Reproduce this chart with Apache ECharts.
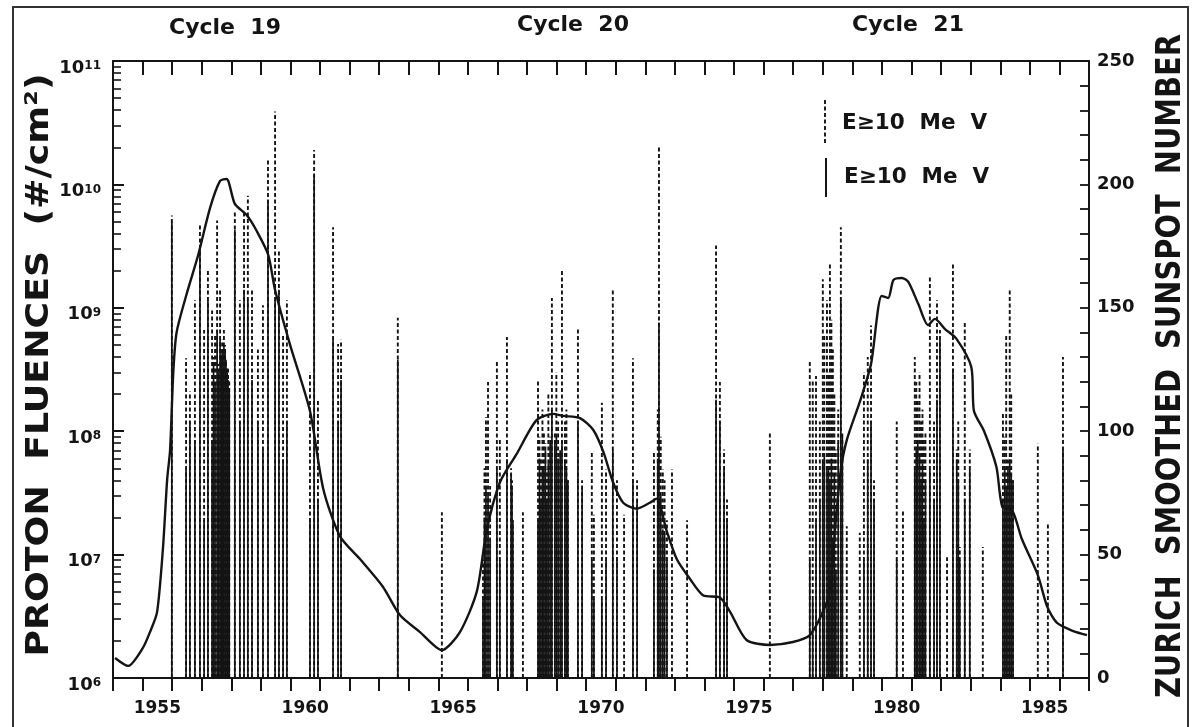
<!DOCTYPE html>
<html><head><meta charset="utf-8">
<script src="https://cdn.jsdelivr.net/npm/echarts@6/dist/echarts.min.js"></script>
<style>html,body{margin:0;padding:0;background:#fff}#c{width:1197px;height:727px}</style>
</head><body><div id="c"></div>
<script>
// ---------- tick labels / texts ----------
const xLabelYears = [1955, 1960, 1965, 1970, 1975, 1980, 1985];
const leftTickValues = [1e6, 1e7, 1e8, 1e9, 1e10, 1e11];
const rightLabelValues = [0, 50, 100, 150, 200, 250];
const cycleLabels = ['Cycle  19', 'Cycle  20', 'Cycle  21'];
const legendLabels = ['E\u226510  Me  V', 'E\u226510  Me  V'];
const leftTitle = 'PROTON  FLUENCES  (#/cm\u00B2)';
const rightTitle = 'ZURICH  SMOOTHED  SUNSPOT  NUMBER';

// ---------- Zurich smoothed sunspot number ----------
const sunspotYears = [
  1954.07, 1954.51, 1955.01, 1955.25, 1955.49, 1955.69, 1955.83, 1955.93, 1956.04, 1956.15,
  1956.49, 1956.88, 1957.28, 1957.62, 1957.84, 1958.12, 1958.52, 1958.86, 1959.25, 1959.48,
  1959.98, 1960.66, 1961.11, 1961.67, 1962.35, 1963.13, 1963.70, 1964.38, 1965.12, 1965.73,
  1966.30, 1966.63, 1967.08, 1967.65, 1968.32, 1968.89, 1969.22, 1969.79, 1970.24, 1970.58,
  1970.91, 1971.25, 1971.70, 1972.15, 1972.38, 1972.72, 1973.06, 1973.51, 1973.96, 1974.52,
  1974.86, 1975.42, 1976.21, 1976.99, 1977.56, 1978.00, 1978.24, 1978.44, 1978.61, 1978.81,
  1979.27, 1979.63, 1979.99, 1980.21, 1980.39, 1980.67, 1980.89, 1981.23, 1981.56, 1981.79,
  1982.13, 1982.52, 1983.02, 1983.11, 1983.45, 1983.87, 1984.07, 1984.41, 1984.73, 1985.27,
  1985.59, 1985.92, 1986.47, 1986.93];
const sunspotValues = [
  8.1, 4.9, 12.2, 18.6, 26.7, 52.7, 80.2, 92.4, 124.2, 140,
  155.6, 171.4, 190.4, 201.4, 202.2, 192.1, 187.6, 181.1, 171.4, 157.2,
  135.3, 108.2, 76.6, 57.5, 48.2, 36.9, 25.5, 18.6, 11.3, 18.6,
  35.0, 59.6, 79.2, 90.8, 104.5, 107.0, 106.2, 105.3, 100.5, 91.6,
  79.2, 71.0, 68.6, 71.0, 72.7, 59.6, 48.2, 40.1, 33.4, 32.6,
  26.9, 15.4, 13.4, 14.6, 17.4, 26.7, 35.7, 64.0, 84.3, 96.4,
  112.6, 127.2, 154.8, 154.0, 161.3, 162.1, 160.5, 151.5, 143.0, 145.5,
  141.4, 137.4, 126.0, 108.2, 100.1, 85.5, 69.3, 67.7, 56.3, 41.7,
  28.8, 22.3, 19.0, 17.4];

// ---------- proton events (#/cm2): dashed = upper fluence, solid = lower fluence ----------
const c19Years = [1955.99,1956.47,1956.60,1956.77,1956.94,1957.08,1957.21,1957.35,1957.40,1957.45,
  1957.52,1957.57,1957.62,1957.66,1957.69,1957.72,1957.75,1957.79,1957.82,1957.86,
  1957.89,1957.93,1958.12,1958.29,1958.43,1958.56,1958.70,1958.90,1959.07,1959.24,
  1959.48,1959.61,1959.75,1959.88,1960.66,1960.80,1960.93,1961.44,1961.61,1961.71,1963.63];
const c19Dashed = [5.6e9,3.9e8,2.1e8,1.15e9,4.7e9,6.6e8,2.0e9,9.5e8,4.0e8,6.0e8,
  5.1e9,3.5e8,1.4e9,4.2e8,5.5e8,3.6e8,6.6e8,5.0e8,3.8e8,3.3e8,
  3.2e8,2.6e8,6.2e9,1.15e9,6.2e9,8.1e9,1.4e9,4.6e8,1.05e9,1.6e10,
  3.9e10,3.0e9,6.0e8,1.15e9,3.0e8,1.9e10,1.8e8,4.5e9,5.1e8,5.5e8,8.3e8];
const c19Solid = [5.0e9,4.9e7,1.2e8,8.5e7,3.0e9,1.9e7,1.15e9,8.5e7,3.5e8,2.5e8,
  6.6e8,3.0e8,5.5e8,4.0e8,4.6e8,3.2e8,5.0e8,4.5e8,3.8e8,3.0e8,
  2.6e8,2.2e8,4.3e9,1.2e8,1.4e9,1.15e9,2.6e8,1.2e8,7.1e7,7.4e9,
  1.15e9,1.4e9,5.9e7,1.2e8,1.9e7,1.2e10,2.8e7,5.5e8,1.2e8,2.6e8,3.8e8];

const c20Years = [1965.12,1966.51,1966.56,1966.61,1966.68,1966.75,1966.98,1967.08,1967.32,1967.46,
  1967.49,1967.52,1967.86,1968.37,1968.42,1968.47,1968.52,1968.57,1968.62,1968.67,
  1968.72,1968.78,1968.84,1968.94,1968.99,1969.05,1969.12,1969.18,1969.28,1969.33,
  1969.38,1969.72,1969.86,1970.19,1970.26,1970.53,1970.67,1970.90,1971.04,1971.28,
  1971.58,1971.72,1972.29,1972.42,1972.46,1972.52,1972.59,1972.65,1972.73,1972.90,
  1973.41,1974.39,1974.52,1974.66,1974.76,1976.21];
const c20Dashed = [2.2e7,9.1e6,5.0e7,1.3e8,2.5e8,3.6e7,3.8e8,8.5e7,5.8e8,5.0e7,
  4.0e7,1.9e7,2.2e7,2.6e8,9.0e7,5.9e7,1.5e8,1.0e8,8.0e7,4.9e7,
  2.0e8,9.0e7,1.2e9,1.0e8,3.0e8,1.2e8,7.0e7,2.0e9,1.2e8,1.5e8,
  4.0e7,6.8e8,4.0e7,6.8e7,2.1e7,1.7e8,4.9e7,1.4e9,4.0e7,2.1e7,
  3.9e8,4.0e7,6.8e7,1.5e8,2.0e10,9.0e7,4.9e7,4.0e7,1.9e7,4.9e7,
  1.9e7,3.2e9,2.5e8,7.1e7,2.8e7,1.0e8];
const c20Solid = [null,4.3e6,2.0e7,3.6e7,3.0e7,1.3e7,4.9e7,9.1e6,5.9e7,4.5e7,
  3.5e7,1.9e7,null,1.9e7,6.0e7,2.8e7,5.0e7,4.9e7,7.0e7,2.8e7,
  5.5e7,8.0e7,1.5e8,8.5e7,9.0e7,6.0e7,7.0e7,8.5e7,5.9e7,5.0e7,
  4.0e7,1.2e8,3.5e7,9.1e6,4.3e6,4.3e6,9.1e6,7.1e7,9.1e6,null,
  4.0e7,2.8e7,7.6e6,6.0e7,7.6e8,3.0e7,1.6e7,1.5e7,9.1e6,null,
  null,1.8e8,1.2e8,4.9e7,1.9e7,null];

const c21Years = [1977.56,1977.66,1977.77,1977.90,1978.00,1978.05,1978.14,1978.19,1978.24,1978.29,
  1978.34,1978.39,1978.44,1978.52,1978.61,1978.66,1978.81,1979.25,1979.39,1979.52,
  1979.63,1979.73,1980.50,1980.71,1981.11,1981.16,1981.21,1981.27,1981.32,1981.37,
  1981.42,1981.47,1981.62,1981.76,1981.86,1981.96,1982.20,1982.40,1982.53,1982.58,
  1982.63,1982.80,1982.97,1983.41,1984.09,1984.15,1984.20,1984.26,1984.32,1984.37,
  1984.43,1985.27,1985.61,1986.12];
const c21Dashed = [3.8e8,2.6e8,2.8e8,1.2e8,1.7e9,6.0e8,1.15e9,3.0e8,2.3e9,8.0e8,
  4.6e8,2.0e8,7.1e7,1.5e8,4.5e9,1.0e8,1.7e7,1.5e7,3.0e8,4.0e8,
  7.2e8,4.0e7,1.2e8,2.3e7,4.0e8,2.5e8,1.8e8,3.0e8,1.2e8,1.5e8,
  8.5e7,1.0e8,1.8e9,1.2e8,1.15e9,6.6e8,9.5e6,2.3e9,7.1e7,1.2e8,
  1.15e7,7.6e8,7.1e7,1.15e7,1.4e8,9.0e7,6.0e8,5.9e7,1.4e9,2.0e8,
  4.0e7,7.9e7,1.8e7,4.0e8];
const c21Solid = [9.1e6,4.3e6,1.9e7,2.8e7,5.9e7,6.5e7,4.9e7,5.0e7,4.0e7,6.0e7,
  1.3e7,4.5e7,7.6e6,8.0e7,1.15e9,9.0e7,null,null,9.1e6,5.9e7,
  1.2e8,2.8e7,9.1e6,null,4.9e7,7.0e7,8.5e7,6.5e7,4.0e7,5.5e7,
  1.9e7,4.0e7,4.9e7,2.8e7,1.8e8,5.5e8,null,3.2e8,5.9e7,4.0e7,
  9.1e6,2.8e7,4.9e7,null,2.8e7,5.0e7,3.5e7,4.9e7,5.9e7,4.5e7,
  4.0e7,null,null,7.1e7];

// ---------- build ----------
const FONT = '"DejaVu Sans", "Liberation Sans", sans-serif';
const INK = '#141414';
const allYears = c19Years.concat(c20Years, c21Years);
const allDashed = c19Dashed.concat(c20Dashed, c21Dashed);
const allSolid = c19Solid.concat(c20Solid, c21Solid);
const dashedData = allYears.map((y, i) => [y, allDashed[i]]);
const solidData = allYears.map((y, i) => [y, allSolid[i]]).filter(d => d[1] != null);
const sunspotData = sunspotYears.map((y, i) => [y, sunspotValues[i]]);

const minorTicks = [];
for (let e = 6; e < 11; e++) for (let m = 2; m <= 9; m++) minorTicks.push(m * Math.pow(10, e));

function vline(dash, width) {
  return function (params, api) {
    const x = api.value(0), v = api.value(1);
    const p0 = api.coord([x, 1e6]);
    const p1 = api.coord([x, v]);
    return {
      type: 'line',
      shape: { x1: p0[0], y1: p0[1], x2: p1[0], y2: p1[1] },
      style: { stroke: INK, lineWidth: width, lineDash: dash }
    };
  };
}

const chart = echarts.init(document.getElementById('c'), null, { renderer: 'canvas' });
const axisLine = { show: true, lineStyle: { color: INK, width: 2 } };
const option = {
  animation: false,
  backgroundColor: '#fff',
  grid: { left: 113, right: 108, top: 61, bottom: 49, outerBoundsMode: 'none' },
  xAxis: [
    {
      type: 'value', position: 'bottom', min: 1954, max: 1987, interval: 1,
      axisLine: axisLine,
      axisTick: { show: true, inside: false, length: 13, lineStyle: { color: INK, width: 2 } },
      axisLabel: {
        customValues: xLabelYears.map(y => y + 0.5),
        formatter: v => String(Math.floor(v)),
        fontFamily: FONT, fontWeight: 'bold', fontSize: 17, color: INK, margin: 22
      },
      splitLine: { show: false }
    },
    {
      type: 'value', position: 'top', min: 1954, max: 1987, interval: 1,
      axisLine: axisLine,
      axisTick: { show: true, inside: true, length: 14, lineStyle: { color: INK, width: 2 } },
      axisLabel: { show: false },
      splitLine: { show: false }
    }
  ],
  yAxis: [
    {
      type: 'log', logBase: 10, min: 1e6, max: 1e11, position: 'left',
      axisLine: axisLine,
      axisTick: { show: true, inside: true, length: 11, customValues: leftTickValues, lineStyle: { color: INK, width: 2 } },
      axisLabel: {
        customValues: leftTickValues,
        margin: 12,
        formatter: v => '{a|10}{b|' + Math.round(Math.log10(v)) + '}',
        rich: {
          a: { fontFamily: FONT, fontWeight: 'bold', fontSize: 18, lineHeight: 20, color: INK, padding: [14, 0, 0, 0] },
          b: { fontFamily: FONT, fontWeight: 'bold', fontSize: 12, lineHeight: 12, color: INK, verticalAlign: 'top', padding: [9, 0, 0, 0] }
        }
      },
      splitLine: { show: false }
    },
    {
      type: 'log', logBase: 10, min: 1e6, max: 1e11, position: 'left',
      axisLine: { show: false },
      axisTick: { show: true, inside: true, length: 8, customValues: minorTicks, lineStyle: { color: INK, width: 1.6 } },
      axisLabel: { show: false },
      splitLine: { show: false }
    },
    {
      type: 'value', min: 0, max: 250, interval: 10, position: 'right',
      axisLine: axisLine,
      axisTick: { show: true, inside: true, length: 9, lineStyle: { color: INK, width: 1.8 } },
      axisLabel: {
        customValues: rightLabelValues,
        fontFamily: FONT, fontWeight: 'bold', fontSize: 18, color: INK, margin: 8
      },
      splitLine: { show: false }
    }
  ],
  series: [
    { type: 'custom', name: 'dashed', xAxisIndex: 0, yAxisIndex: 0, data: dashedData,
      encode: { x: 0, y: 1 }, renderItem: vline([4, 2.5], 1.9), clip: true, z: 2 },
    { type: 'custom', name: 'solid', xAxisIndex: 0, yAxisIndex: 0, data: solidData,
      encode: { x: 0, y: 1 }, renderItem: vline(null, 1.7), clip: true, z: 3 },
    { type: 'line', name: 'sunspot', xAxisIndex: 0, yAxisIndex: 2, data: sunspotData,
      symbol: 'none', showSymbol: false, smooth: 0.25,
      lineStyle: { color: INK, width: 2.4 }, z: 4 }
  ],
  graphic: [
    { type: 'rect', shape: { x: 13, y: 7, width: 1175, height: 760 },
      style: { fill: null, stroke: '#333', lineWidth: 2 }, silent: true },
    { type: 'text', x: 40, y: 365, rotation: Math.PI / 2, scaleX: 1.135,
      style: { text: leftTitle, fontFamily: FONT, fontWeight: 'bold', fontSize: 32, fill: INK, align: 'center', verticalAlign: 'middle' } },
    { type: 'text', x: 1171, y: 366, rotation: Math.PI / 2, scaleX: 0.875,
      style: { text: rightTitle, fontFamily: FONT, fontWeight: 'bold', fontSize: 33, fill: INK, align: 'center', verticalAlign: 'middle' } },
    { type: 'text', x: 225, y: 28, style: { text: cycleLabels[0], fontFamily: FONT, fontWeight: 'bold', fontSize: 22, fill: INK, align: 'center', verticalAlign: 'middle' } },
    { type: 'text', x: 573, y: 25, style: { text: cycleLabels[1], fontFamily: FONT, fontWeight: 'bold', fontSize: 22, fill: INK, align: 'center', verticalAlign: 'middle' } },
    { type: 'text', x: 908, y: 25, style: { text: cycleLabels[2], fontFamily: FONT, fontWeight: 'bold', fontSize: 22, fill: INK, align: 'center', verticalAlign: 'middle' } },
    { type: 'line', shape: { x1: 825, y1: 100, x2: 825, y2: 143 }, style: { stroke: INK, lineWidth: 1.9, lineDash: [4, 2.5] } },
    { type: 'line', shape: { x1: 826, y1: 158, x2: 826, y2: 197 }, style: { stroke: INK, lineWidth: 2 } },
    { type: 'text', x: 842, y: 123, style: { text: legendLabels[0], fontFamily: FONT, fontWeight: 'bold', fontSize: 21.5, fill: INK, align: 'left', verticalAlign: 'middle' } },
    { type: 'text', x: 844, y: 177, style: { text: legendLabels[1], fontFamily: FONT, fontWeight: 'bold', fontSize: 21.5, fill: INK, align: 'left', verticalAlign: 'middle' } }
  ]
};
chart.setOption(option);
</script>
</body></html>
